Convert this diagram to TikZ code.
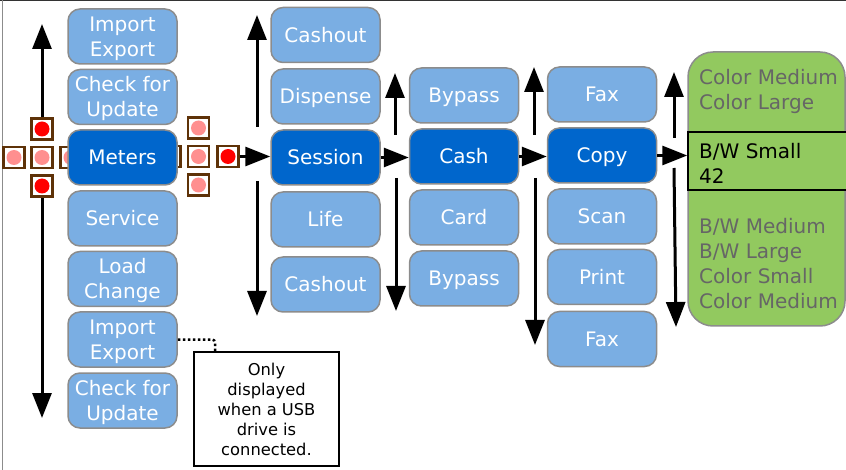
\documentclass[tikz,border=0pt]{standalone}
\usepackage{fontspec}
\setmainfont{DejaVu Sans}
\usetikzlibrary{arrows.meta}
\definecolor{lightblue}{HTML}{7AAEE3}
\definecolor{darkblue}{HTML}{0066CC}
\definecolor{boxedge}{HTML}{8C8C8C}
\definecolor{screengreen}{HTML}{92C95F}
\definecolor{dimtext}{HTML}{666666}
\definecolor{dotedge}{HTML}{5E3208}
\definecolor{pinkdot}{HTML}{FF8F8F}
\newcommand{\toprow}{\rule{0pt}{19pt}}
\tikzset{
  item/.style = {draw=boxedge, line width=1.5pt, fill=lightblue, text=white, rounded corners=12pt,
    minimum width=109pt, minimum height=55pt, inner sep=0pt, align=center,
    font=\fontsize{20}{25}\selectfont},
  one/.style = {text height=14.4pt, text depth=0pt},
  current/.style = {item, one, fill=darkblue},
  bigarrow/.style = {line width=3pt, -{Triangle[length=25pt,width=19pt]}},
  dotbox/.style = {draw=dotedge, line width=2.5pt, fill=white, minimum size=21pt, inner sep=0pt},
  dot/.style = {circle, fill=#1, minimum size=15pt, inner sep=0pt},
  listtext/.style = {anchor=west, align=left, inner sep=0pt, font=\fontsize{20}{25}\selectfont}
}
\begin{document}
\begin{tikzpicture}[x=1pt, y=-1pt]
\useasboundingbox (0,0) rectangle (846,470);
\coordinate (frametop) at (0,0.5);
\coordinate (frametopend) at (846,0.5);
\coordinate (frameleft) at (2.5,0);
\coordinate (frameleftend) at (2.5,470);
\draw [line width=1pt, black!80] (frametop) -- (frametopend);
\draw [line width=1.5pt, black!45] (frameleft) -- (frameleftend);

% arrows beside the lists
\coordinate (a1up) at (42,118);
\coordinate (a1uptip) at (42,24);
\coordinate (a1down) at (42,197);
\coordinate (a1downtip) at (42,418);
\coordinate (a2up) at (257,127);
\coordinate (a2uptip) at (257,15);
\coordinate (a2down) at (257,181);
\coordinate (a2downtip) at (257,316);
\coordinate (a3up) at (395,135);
\coordinate (a3uptip) at (395,73);
\coordinate (a3down) at (396,178);
\coordinate (a3downtip) at (396,311);
\coordinate (a4up) at (534,135);
\coordinate (a4uptip) at (534,67);
\coordinate (a4down) at (535,178);
\coordinate (a4downtip) at (535,345);
\coordinate (a5up) at (674,138);
\coordinate (a5uptip) at (674,72);
\coordinate (a5down) at (674,168);
\coordinate (a5downtip) at (676,327);
\draw [bigarrow] (a1up) -- (a1uptip);
\draw [bigarrow] (a1down) -- (a1downtip);
\draw [bigarrow] (a2up) -- (a2uptip);
\draw [bigarrow] (a2down) -- (a2downtip);
\draw [bigarrow] (a3up) -- (a3uptip);
\draw [bigarrow] (a3down) -- (a3downtip);
\draw [bigarrow] (a4up) -- (a4uptip);
\draw [bigarrow] (a4down) -- (a4downtip);
\draw [bigarrow] (a5up) -- (a5uptip);
\draw [bigarrow] (a5down) -- (a5downtip);

% small squares around Meters
\node [dotbox] (s1) at (42,129) {};
\node [dot=red] (d1) at (s1) {};
\node [dotbox] (s2) at (42,157.5) {};
\node [dot=pinkdot] (d2) at (s2) {};
\node [dotbox] (s3) at (42,186) {};
\node [dot=red] (d3) at (s3) {};
\node [dotbox] (s4) at (14,157.5) {};
\node [dot=pinkdot] (d4) at (s4) {};
\node [dotbox] (s5) at (71,157.5) {};
\node [dot=pinkdot] (d5) at (s5) {};
\node [dotbox] (s6) at (198.5,128) {};
\node [dot=pinkdot] (d6) at (s6) {};
\node [dotbox] (s7) at (198.5,156.5) {};
\node [dot=pinkdot] (d7) at (s7) {};
\node [dotbox] (s8) at (198.5,185) {};
\node [dot=pinkdot] (d8) at (s8) {};
\node [dotbox] (s9) at (170,156.5) {};
\node [dot=pinkdot] (d9) at (s9) {};
\node [dotbox] (s10) at (228,156.5) {};
\node [dot=red] (d10) at (s10) {};

% first list
\node [item] (import1) at (122.5,36.5) {\toprow Import\\Export};
\node [item] (check1) at (122.5,97) {\toprow Check for\\Update};
\node [current] (meters) at (122.5,157.5) {Meters};
\node [item, one] (service) at (122.5,218.5) {Service};
\node [item] (load) at (122.5,279) {\toprow Load\\Change};
\node [item] (import2) at (122.5,339.5) {\toprow Import\\Export};
\node [item] (check2) at (122.5,400.5) {\toprow Check for\\Update};

% second list
\node [item, one] (cashout1) at (325.5,35) {Cashout};
\node [item, one] (dispense) at (325.5,96.5) {Dispense};
\node [current] (session) at (325.5,157.5) {Session};
\node [item, one] (life) at (325.5,219.5) {Life};
\node [item, one] (cashout2) at (325.5,284.5) {Cashout};

% third list
\node [item, one] (bypass1) at (464,95.5) {Bypass};
\node [current] (cash) at (464,156.5) {Cash};
\node [item, one] (card) at (464,217.5) {Card};
\node [item, one] (bypass2) at (464,278.5) {Bypass};

% fourth list
\node [item, one] (fax1) at (602,94.5) {Fax};
\node [current] (copy) at (602,155.5) {Copy};
\node [item, one] (scan) at (602,216.5) {Scan};
\node [item, one] (print) at (602,277) {Print};
\node [item, one] (fax2) at (602,339) {Fax};

% sizes
\node [draw=boxedge, line width=1.5pt, fill=screengreen, rounded corners=25pt,
  minimum width=157pt, minimum height=274pt] (sizes) at (766.5,189) {};
\node [listtext, text=dimtext] (upper) at (699,91.5) {Color Medium\\Color Large};
\node [draw=black, line width=1.5pt, fill=screengreen, minimum width=162pt, minimum height=58pt,
  inner sep=0pt] (band) at (769,161) {};
\node [listtext] (selected) at (699,163.5) {B/W Small\\42};
\node [listtext, text=dimtext] (lower) at (699,263.2) {B/W Medium\\B/W Large\\Color Small\\Color Medium};

% note
\node [draw=black, line width=1.5pt, fill=white, minimum width=145pt, minimum height=114pt,
  inner sep=0pt, align=center, font=\fontsize{16.3}{20}\selectfont] (note) at (266.5,409)
  {Only\\displayed\\when a USB\\drive is\\connected.};
\coordinate (notehook) at (215,352);

\draw [bigarrow] (s10) -- (s10 -| session.west);
\draw [bigarrow] (session) -- (session -| cash.west);
\draw [bigarrow] (cash) -- (cash -| copy.west);
\draw [bigarrow] (copy) -- (copy -| band.west);
\draw [line width=2.5pt, dash pattern=on 2.5pt off 2.5pt, rounded corners=3pt] (import2) -| (notehook);
\end{tikzpicture}
\end{document}
